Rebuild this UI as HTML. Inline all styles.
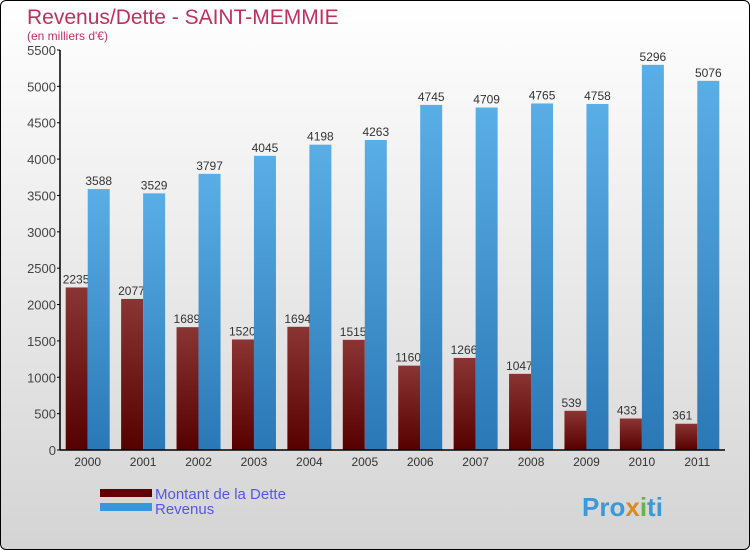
<!DOCTYPE html>
<html><head><meta charset="utf-8"><style>
html,body{margin:0;padding:0}
body{width:750px;height:550px;overflow:hidden;font-family:"Liberation Sans",sans-serif}
#wrap{position:absolute;left:0;top:0;width:748px;height:548px;border:1px solid #000;border-radius:6px;background:linear-gradient(#ffffff,#d4d4d4)}
</style></head><body>
<div id="wrap">
<svg id="chart" width="750" height="550" style="position:absolute;left:-1px;top:-1px">
<defs>
<linearGradient id="gd" x1="0" y1="0" x2="0" y2="1"><stop offset="0" stop-color="#8a3434"/><stop offset="1" stop-color="#560000"/></linearGradient>
<linearGradient id="gr" x1="0" y1="0" x2="0" y2="1"><stop offset="0" stop-color="#5aaee6"/><stop offset="1" stop-color="#2a78b6"/></linearGradient>
</defs>
<text x="27" y="24" font-size="21" fill="#c0305f">Revenus/Dette - SAINT-MEMMIE</text>
<text x="27" y="40" font-size="12" fill="#c0305f">(en milliers d'€)</text>
<g id="plot"></g>
<rect x="100" y="489" width="52" height="8" fill="#600000"/>
<text x="155" y="499" font-size="15" fill="#5555ee">Montant de la Dette</text>
<rect x="100" y="503" width="52" height="8" fill="#3398dd"/>
<text x="155" y="514" font-size="15" fill="#5555ee">Revenus</text>
<text x="582" y="516" font-size="26" font-weight="bold" fill="#3a9ad9">Pro<tspan fill="#e08a1e">x</tspan><tspan fill="#6ab04c">i</tspan>ti</text>
</svg>
</div>
<script>
const years=["2000","2001","2002","2003","2004","2005","2006","2007","2008","2009","2010","2011"];
const debt=[2235,2077,1689,1520,1694,1515,1160,1266,1047,539,433,361];
const revenue=[3588,3529,3797,4045,4198,4263,4745,4709,4765,4758,5296,5076];
const yTicks=[0,500,1000,1500,2000,2500,3000,3500,4000,4500,5000,5500];
const NS="http://www.w3.org/2000/svg";
const g=document.getElementById('plot');
const y0=450,yTop=50,yMax=5500,x0=60,x1=725;
const ys=v=>y0-(v/yMax)*(y0-yTop);
const step=(x1-x0)/years.length;
const xc=i=>x0+step*(i+0.5);
function mk(t,a){const e=document.createElementNS(NS,t);for(const k in a)e.setAttribute(k,a[k]);g.appendChild(e);return e;}
yTicks.forEach(v=>{
 const l=mk('line',{x1:x0-3,x2:x0,y1:ys(v),y2:ys(v),stroke:'#000'});
 
 
 const t=mk('text',{x:x0-4,y:ys(v)+5,'font-size':13,'text-anchor':'end',fill:'#444'});
 t.textContent=v;
 
 
});
years.forEach((yr,i)=>{
 const c=xc(i);
 const b=mk('rect',{x:c-22,y:ys(debt[i]),width:22,height:y0-ys(debt[i]),fill:'url(#gd)'});
 
 
 const t=mk('text',{x:c-25,y:ys(debt[i])-4,'font-size':12,fill:'#333'});
 t.textContent=debt[i];
 
 
});
years.forEach((yr,i)=>{
 const c=xc(i);
 const b=mk('rect',{x:c,y:ys(revenue[i]),width:22,height:y0-ys(revenue[i]),fill:'url(#gr)'});
 
 
 const t=mk('text',{x:c+11,y:ys(revenue[i])-4,'font-size':12,'text-anchor':'middle',fill:'#333'});
 t.textContent=revenue[i];
 
 
 const xl=mk('text',{x:c,y:466,'font-size':12,'text-anchor':'middle',fill:'#333'});
 xl.textContent=yr;
 
 
});
const ax=mk('line',{x1:x0,x2:x0,y1:yTop,y2:y0,stroke:'#000','stroke-width':1.5});


const bx=mk('line',{x1:x0,x2:x1,y1:y0,y2:y0,stroke:'#000','stroke-width':1.5});


</script>
</body></html>
